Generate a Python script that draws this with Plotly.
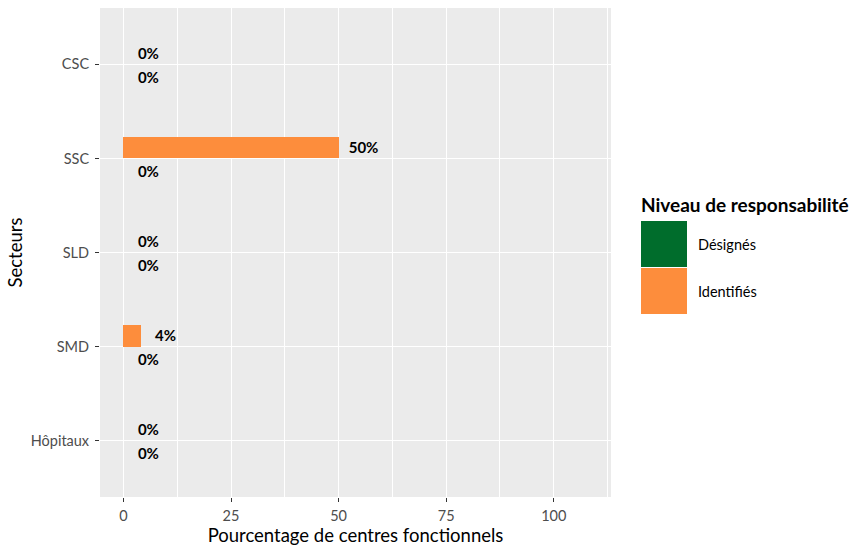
import plotly.graph_objects as go

sectors = ["CSC", "SSC", "SLD", "SMD", "Hôpitaux"]
identifies = [0, 50, 0, 4, 0]
designes = [0, 0, 0, 0, 0]
series_names = ["Désignés", "Identifiés"]
colors = {"Désignés": "#006d2c", "Identifiés": "#fd8d3c"}
x_ticks = [0, 25, 50, 75, 100]

W, H = 854, 548
ML, MR, MT, MB = 100, 243, 8, 51
PW, PH = W - ML - MR, H - MT - MB
FONT = "Lato"

def px_x(p):
    return (p - ML) / PW

def px_y(p):
    return (H - MB - p) / PH

bw = 0.23
idx = list(range(len(sectors)))
y_ident = [i - bw / 2 for i in idx]
y_desig = [i + bw / 2 for i in idx]
# text baseline adjustment (in category units)
y_ident_lbl = [y + 0.021 for y in y_ident]
y_desig_lbl = [y + 0.042 for y in y_desig]
label_nudge = 5.8
LBL = dict(family=FONT, size=15, color="black", weight="bold")

fig = go.Figure()
fig.add_trace(go.Bar(x=identifies, y=y_ident, orientation="h", width=bw,
                     marker=dict(color=colors["Identifiés"], line=dict(width=0)),
                     name="Identifiés", showlegend=False, hoverinfo="x+name"))
fig.add_trace(go.Bar(x=designes, y=y_desig, orientation="h", width=bw,
                     marker=dict(color=colors["Désignés"], line=dict(width=0)),
                     name="Désignés", showlegend=False, hoverinfo="x+name"))
fig.add_trace(go.Scatter(x=[v + label_nudge for v in identifies], y=y_ident_lbl, mode="text",
                         text=[f"{v}%" for v in identifies], showlegend=False,
                         textfont=LBL, hoverinfo="skip"))
fig.add_trace(go.Scatter(x=[v + label_nudge for v in designes], y=y_desig_lbl, mode="text",
                         text=[f"{v}%" for v in designes], showlegend=False,
                         textfont=LBL, hoverinfo="skip"))

fig.update_layout(
    width=W, height=H,
    margin=dict(l=ML, r=MR, t=MT, b=MB, pad=0),
    paper_bgcolor="white", plot_bgcolor="#EBEBEB",
    barmode="overlay", bargap=0,
    font=dict(family=FONT, size=14, color="#4d4d4d"),
)
fig.update_xaxes(
    range=[-5.45, 113.3], tickvals=x_ticks, ticktext=[str(t) for t in x_ticks],
    showgrid=True, gridcolor="white", gridwidth=1.1, zeroline=False,
    ticks="outside", ticklen=4, tickcolor="#333333", tickwidth=1.1,
    ticklabelstandoff=2,
    tickfont=dict(family=FONT, size=14.5, color="#4d4d4d"),
    minor=dict(tickvals=[12.5, 37.5, 62.5, 87.5, 112.5], showgrid=True,
               gridcolor="white", gridwidth=0.5, ticks=""),
    title=dict(text="Pourcentage de centres fonctionnels",
               font=dict(family=FONT, size=18.5, color="black"), standoff=4),
    showline=False, fixedrange=True, automargin=False,
)
fig.update_yaxes(
    range=[len(sectors) - 0.4, -0.6], tickvals=idx, ticktext=sectors,
    showgrid=True, gridcolor="white", gridwidth=1.1, zeroline=False,
    ticks="outside", ticklen=4, tickcolor="#333333", tickwidth=1.1,
    ticklabelstandoff=3,
    tickfont=dict(family=FONT, size=14.5, color="#4d4d4d"),
    title=dict(text="Secteurs", font=dict(family=FONT, size=18.5, color="black"), standoff=3),
    showline=False, fixedrange=True, automargin=False,
)

# Legend drawn in ggplot2 style
fig.add_annotation(x=px_x(639), y=px_y(204), xref="paper", yref="paper",
                   text="<b>Niveau de responsabilité</b>", showarrow=False,
                   xanchor="left", yanchor="middle",
                   font=dict(family=FONT, size=19, color="black"))
key_tops = [221, 268]
for name, top in zip(series_names, key_tops):
    fig.add_shape(type="rect", xref="paper", yref="paper",
                  x0=px_x(641), x1=px_x(687), y0=px_y(top), y1=px_y(top + 46),
                  fillcolor=colors[name], line=dict(width=0), layer="above")
    fig.add_annotation(x=px_x(696), y=px_y(top + 23), xref="paper", yref="paper",
                       text=name, showarrow=False, xanchor="left", yanchor="middle",
                       font=dict(family=FONT, size=14.5, color="black"))

fig.write_html("out.html", config={"displayModeBar": False},
               post_script="document.body.style.margin='0';")
